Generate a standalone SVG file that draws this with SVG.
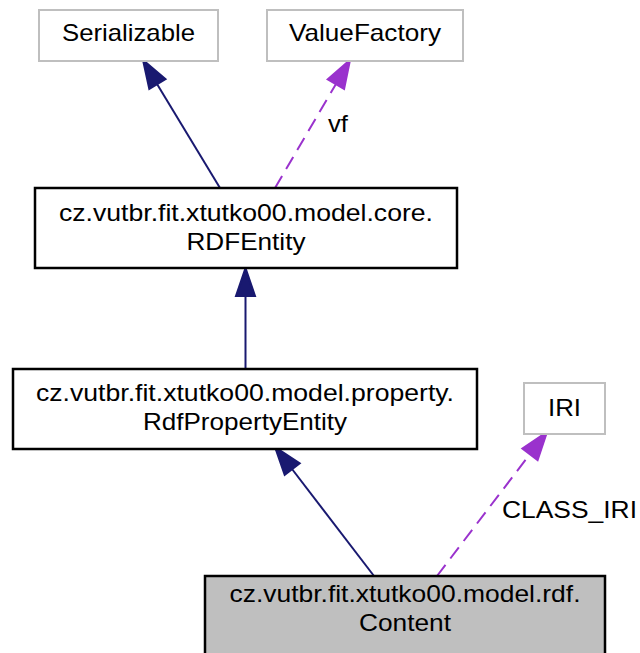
<svg xmlns="http://www.w3.org/2000/svg" width="640" height="653" viewBox="0 0 640 653">
<style>
text{font-family:"Liberation Sans",Arial,Helvetica,sans-serif;font-size:24px;fill:#000;text-anchor:middle}
.ext{fill:#fff;stroke:#bfbfbf;stroke-width:2}
.cls{fill:#fff;stroke:#000;stroke-width:2.5}
.cur{fill:#bfbfbf;stroke:#000;stroke-width:2.5}
.inh{fill:none;stroke:#191970;stroke-width:2}
.inhh{fill:#191970;stroke:#191970;stroke-width:2}
.use{fill:none;stroke:#9a32cd;stroke-width:2;stroke-dasharray:14,8}
.useh{fill:#9a32cd;stroke:#9a32cd;stroke-width:2}
.lbl{text-anchor:start}
</style>
<rect width="640" height="653" fill="#fff"/>
<g id="connectors">
<path class="inh" d="M220,188 L157,84"/>
<polygon class="inhh" points="143,60 165.5,79.1 149.3,88.9"/>
<path class="use" d="M275,188 L336,84"/>
<polygon class="useh" points="350,60 344.1,89 327.7,79.4"/>
<text class="lbl" x="328" y="132" textLength="20" lengthAdjust="spacingAndGlyphs">vf</text>
<path class="inh" d="M245.5,368 L245.5,296"/>
<polygon class="inhh" points="245.5,268 255,296 236,296"/>
<path class="inh" d="M374,576 L292,469"/>
<polygon class="inhh" points="275,447 299.7,463.3 284.7,474.9"/>
<path class="use" d="M437,576 L530,454"/>
<polygon class="useh" points="547,432 537.6,460.1 522.4,448.5"/>
<text class="lbl" x="502" y="518" textLength="135" lengthAdjust="spacingAndGlyphs">CLASS_IRI</text>
</g>
<g id="node-serializable">
<rect class="ext" x="39" y="10" width="179" height="51"/>
<text x="128.5" y="41" textLength="133" lengthAdjust="spacingAndGlyphs">Serializable</text>
</g>
<g id="node-valuefactory">
<rect class="ext" x="267" y="10" width="196" height="51"/>
<text x="365" y="41" textLength="152" lengthAdjust="spacingAndGlyphs">ValueFactory</text>
</g>
<g id="node-rdfentity">
<rect class="cls" x="35" y="188" width="422" height="80"/>
<text x="246" y="221" textLength="374" lengthAdjust="spacingAndGlyphs">cz.vutbr.fit.xtutko00.model.core.</text>
<text x="246" y="250" textLength="119" lengthAdjust="spacingAndGlyphs">RDFEntity</text>
</g>
<g id="node-rdfpropertyentity">
<rect class="cls" x="13" y="369" width="464" height="80"/>
<text x="245" y="401" textLength="418" lengthAdjust="spacingAndGlyphs">cz.vutbr.fit.xtutko00.model.property.</text>
<text x="245" y="430" textLength="204" lengthAdjust="spacingAndGlyphs">RdfPropertyEntity</text>
</g>
<g id="node-iri">
<rect class="ext" x="524" y="383" width="81" height="51"/>
<text x="564.5" y="416" textLength="33" lengthAdjust="spacingAndGlyphs">IRI</text>
</g>
<g id="node-content">
<rect class="cur" x="205" y="576" width="400" height="80"/>
<text x="405" y="602" textLength="351" lengthAdjust="spacingAndGlyphs">cz.vutbr.fit.xtutko00.model.rdf.</text>
<text x="405" y="631" textLength="92" lengthAdjust="spacingAndGlyphs">Content</text>
</g>
</svg>
